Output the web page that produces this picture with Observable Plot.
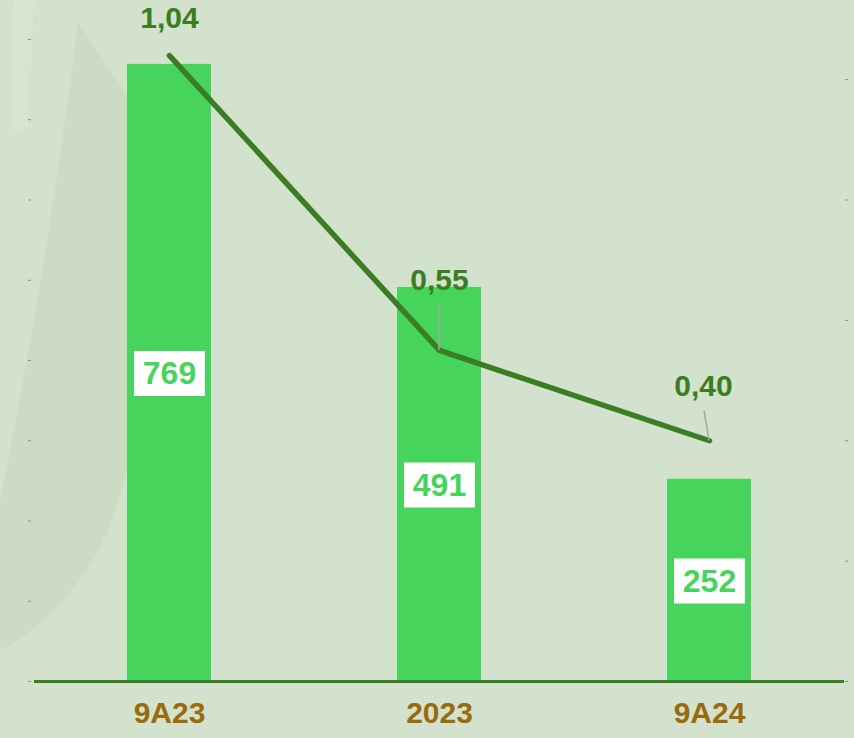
<!DOCTYPE html>
<html>
<head>
<meta charset="utf-8">
<script src="https://cdn.jsdelivr.net/npm/d3@7"></script>
<script src="https://cdn.jsdelivr.net/npm/@observablehq/plot@0.6"></script>
<style>
  html, body { margin: 0; padding: 0; background: #d3e2cc; }
  #chart svg { display: block; }
</style>
</head>
<body>
<div id="chart"></div>
<script>
// ---- data ----
const categories = ["9A23", "2023", "9A24"];
const barValues = [769, 491, 252];
const lineValues = [1.04, 0.55, 0.40];
const lineLabels = ["1,04", "0,55", "0,40"];
const leftTicks = [0, 100, 200, 300, 400, 500, 600, 700, 800];
const rightTicks = [0, 0.2, 0.4, 0.6, 0.8, 1.0];
const rightToLeft = 750; // 1.0 on the right axis equals 750 on the left axis

// ---- layout / style (not data) ----
const labelDx = [0, 0, -6];
const labelDy = [-37, -70, -54];
const connectors = [null, {dx: 0, dy: -46}, {dx: -5, dy: -30}];

const rows = categories.map((c, i) => ({cat: c, bar: barValues[i], line: lineValues[i] * rightToLeft, label: lineLabels[i], i}));

const BAR = "#46d45c";
const LINE = "#3a7d22";
const BG = "#d3e2cc";
const FONT = "'Liberation Sans', Arial, sans-serif";

// white label box as a custom symbol (71 x 45 px)
const boxSymbol = {draw(ctx) { ctx.rect(-35.5, -22, 71, 45); }};

const chart = Plot.plot({
  width: 854,
  height: 738,
  marginLeft: 34,
  marginRight: 10,
  marginTop: 39,
  marginBottom: 57,
  style: {background: BG, fontFamily: FONT},
  x: {domain: categories, paddingInner: 0.689, paddingOuter: 0.3445, axis: null},
  y: {domain: [0, 800], axis: null},
  marks: [
    Plot.axisY({ticks: leftTicks, tickSize: 3, tickFormat: () => "", stroke: "#8a8f88", dx: -3}),
    Plot.axisY({anchor: "right", ticks: rightTicks.map(v => v * rightToLeft), tickSize: 3, tickFormat: () => "", stroke: "#8a8f88"}),
    Plot.barY(rows, {x: "cat", y: "bar", fill: BAR}),
    Plot.ruleY([0], {stroke: LINE, strokeWidth: 3}),
    Plot.dot(rows, {x: "cat", y: d => d.bar / 2, symbol: boxSymbol, fill: "#ffffff", stroke: "none", r: 10}),
    Plot.text(rows, {x: "cat", y: d => d.bar / 2, text: d => String(d.bar), fill: BAR, fontSize: 32, fontWeight: "bold", dy: 1}),
    Plot.line(rows, {x: "cat", y: "line", stroke: LINE, strokeWidth: 5.5, strokeLinecap: "round", strokeLinejoin: "round"}),
    ...rows.map(r => Plot.text([r], {x: "cat", y: "line", text: "label", fill: LINE, fontSize: 30, fontWeight: "bold", dx: labelDx[r.i], dy: labelDy[r.i]})),
    Plot.text(categories, {x: d => d, frameAnchor: "bottom", dy: 41, text: d => d, fill: "#9b6a0d", fontSize: 30, fontWeight: "bold"})
  ]
});

document.getElementById("chart").appendChild(chart);

const svg = d3.select(chart);
const xs = chart.scale("x");
const ys = chart.scale("y");

// gray connectors from label to line point
const conn = svg.append("g").attr("stroke", "#a3a8a2").attr("stroke-width", 1.5);
rows.forEach(r => {
  const c = connectors[r.i];
  if (!c) return;
  const px = xs.apply(r.cat) + xs.bandwidth / 2;
  const py = ys.apply(r.line);
  conn.append("line").attr("x1", px).attr("y1", py).attr("x2", px + c.dx).attr("y2", py + c.dy);
});

// faint decorative watermark on the left (background only)
const wm = svg.insert("g", ":first-child");
wm.append("path")
  .attr("d", "M78,22 L127,95 L127,470 Q100,590 10,645 L0,650 L0,500 Q45,280 78,22 Z")
  .attr("fill", "#c9d7bf").attr("opacity", 0.6);
wm.append("path")
  .attr("d", "M14,0 L34,0 L28,130 L10,130 Z")
  .attr("fill", "#d8e6d4").attr("opacity", 0.6);
</script>
</body>
</html>
